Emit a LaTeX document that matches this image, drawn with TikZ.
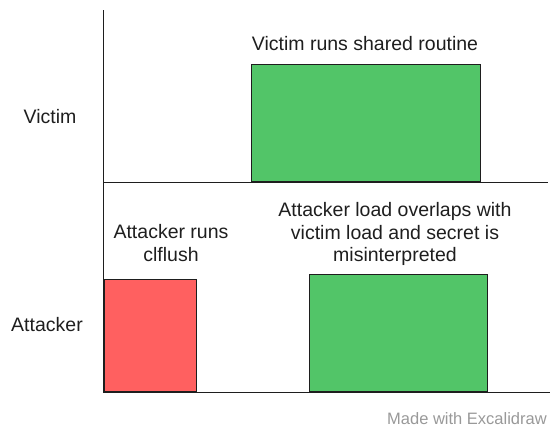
\documentclass[tikz,border=0pt]{standalone}
\usepackage{fontspec}
\setmainfont{Liberation Sans}
\definecolor{runGreen}{RGB}{82,197,104}
\definecolor{flushRed}{RGB}{255,96,96}
\definecolor{inkGray}{RGB}{30,30,30}
\tikzset{
  slot/.style={draw=inkGray,line width=1pt,inner sep=0pt,anchor=south west},
  lbl/.style={font=\fontsize{19.5}{22.5}\selectfont,text=inkGray,align=center}
}
\begin{document}
\begin{tikzpicture}[x=1pt,y=-1pt]
\useasboundingbox (0,0) rectangle (560,431);
% time axes
\coordinate (top) at (103,10);
\coordinate (origin) at (103,392);
\coordinate (mid) at (103,182);
\coordinate (midend) at (548,182);
\coordinate (botend) at (550,392);
% slots
\node[slot,fill=runGreen,minimum width=229pt,minimum height=117pt] (vrun) at (251,182) {};
\node[slot,fill=flushRed,minimum width=92pt,minimum height=112pt] (aflush) at (104,392) {};
\node[slot,fill=runGreen,minimum width=178pt,minimum height=117pt] (aload) at (309,392) {};
\draw[inkGray,line width=0.9pt] (top)--(origin)--(botend);
\draw[inkGray,line width=0.9pt] (mid)--(midend);
% labels
\node[lbl] (victim) at (50,117) {Victim};
\node[lbl] (attacker) at (47,325) {Attacker};
\node[lbl] (vtxt) at (365,44) {Victim runs shared routine};
\node[lbl] (ftxt) at (171,243) {Attacker runs\\clflush};
\node[lbl] (ltxt) at (395,234) {Attacker load overlaps with\\victim load and secret is\\misinterpreted};
\node[font=\fontsize{16.5}{19}\selectfont,text=gray!80] (made) at (467,419) {Made with Excalidraw};
\end{tikzpicture}
\end{document}
